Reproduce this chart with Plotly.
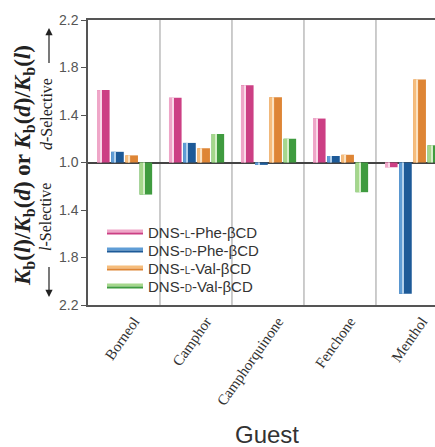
import plotly.graph_objects as go

# ---------------- data ----------------
guests = ["Borneol", "Camphor", "Camphorquinone", "Fenchone", "Menthol"]
series_names = [
    "DNS-<span style='font-size:10px'>L</span>-Phe-βCD",
    "DNS-<span style='font-size:10px'>D</span>-Phe-βCD",
    "DNS-<span style='font-size:10px'>L</span>-Val-βCD",
    "DNS-<span style='font-size:10px'>D</span>-Val-βCD",
]
# selectivity ratio (Kb(d)/Kb(l) or Kb(l)/Kb(d)) and which enantiomer is favoured
l_phe_ratio = [1.61, 1.545, 1.65, 1.37, 1.04]
l_phe_sel = ["d", "d", "d", "d", "l"]
d_phe_ratio = [1.09, 1.165, 1.02, 1.055, 2.105]
d_phe_sel = ["d", "d", "l", "d", "l"]
l_val_ratio = [1.06, 1.12, 1.55, 1.065, 1.70]
l_val_sel = ["d", "d", "d", "d", "d"]
d_val_ratio = [1.27, 1.24, 1.20, 1.25, 1.145]
d_val_sel = ["l", "d", "d", "l", "d"]

y_tickvals = [-1.2, -0.8, -0.4, 0.0, 0.4, 0.8, 1.2]
y_ticktext = ["2.2", "1.8", "1.4", "1.0", "1.4", "1.8", "2.2"]

ratios = [l_phe_ratio, d_phe_ratio, l_val_ratio, d_val_ratio]
sels = [l_phe_sel, d_phe_sel, l_val_sel, d_val_sel]

# ---------------- style ----------------
dark = ["#cc3f84", "#1d5a98", "#de8535", "#3f9b3f"]
light = ["#efa6c8", "#5f9dd6", "#f6bd7c", "#a5d78c"]
stripe = ["#f9d9e8", "#b3d1ec", "#fbe2c2", "#d6eec9"]

W, H = 435, 447
ML, MR, MT, MB = 88, 0, 20, 142
PW = W - ML - MR
PH = H - MT - MB


def px2x(px):
    return (px - ML) / PW


def px2y(py):
    return (H - MB - py) / PH


fig = go.Figure()

bar_w = 0.175
for i in range(4):
    yv = [(r - 1.0) * (1 if s == "d" else -1) for r, s in zip(ratios[i], sels[i])]
    off = -0.375 + i * 0.197
    fig.add_trace(go.Bar(x=guests, y=yv, offset=off, width=bar_w,
                         marker=dict(color=dark[i], line=dict(width=0)),
                         showlegend=False, hoverinfo="skip"))
    fig.add_trace(go.Bar(x=guests, y=yv, offset=off, width=0.05,
                         marker=dict(color=light[i], line=dict(width=0)),
                         showlegend=False, hoverinfo="skip"))
    fig.add_trace(go.Bar(x=guests, y=yv, offset=off + 0.05, width=0.016,
                         marker=dict(color=stripe[i], line=dict(width=0)),
                         showlegend=False, hoverinfo="skip"))

shapes = []
# group separators
for k in range(len(guests) - 1):
    shapes.append(dict(type="line", xref="x", yref="y", x0=k + 0.5, x1=k + 0.5,
                       y0=-1.2, y1=1.2, line=dict(color="#9a9a9a", width=1),
                       layer="below"))

annotations = []
# manual legend
rows = [232, 250, 268, 286]
for i in range(4):
    ry = rows[i]
    shapes.append(dict(type="rect", xref="paper", yref="paper",
                       x0=px2x(107), x1=px2x(143), y0=px2y(ry + 0.5), y1=px2y(ry - 2.5),
                       fillcolor=light[i], line=dict(width=0)))
    shapes.append(dict(type="rect", xref="paper", yref="paper",
                       x0=px2x(107), x1=px2x(143), y0=px2y(ry + 2.5), y1=px2y(ry + 0.5),
                       fillcolor=dark[i], line=dict(width=0)))
    annotations.append(dict(text=series_names[i], xref="paper", yref="paper",
                            x=px2x(146), y=px2y(ry), xanchor="left", yanchor="middle",
                            showarrow=False,
                            font=dict(family="Liberation Sans, Arial", size=15, color="#333")))

# y-axis titles
annotations.append(dict(
    text="<b><i>K</i><sub>b</sub>(<i>l</i>)/<i>K</i><sub>b</sub>(<i>d</i>) or "
         "<i>K</i><sub>b</sub>(<i>d</i>)/<i>K</i><sub>b</sub>(<i>l</i>)</b>",
    xref="paper", yref="paper", x=px2x(24), y=px2y(166), textangle=-90,
    showarrow=False, xanchor="center", yanchor="middle",
    font=dict(family="Liberation Serif, Times New Roman", size=23, color="#222")))
annotations.append(dict(text="<i>d</i>-Selective", xref="paper", yref="paper",
                        x=px2x(46), y=px2y(114), textangle=-90, showarrow=False,
                        xanchor="center", yanchor="middle",
                        font=dict(family="Liberation Serif, Times New Roman", size=16, color="#222")))
annotations.append(dict(text="<i>l</i>-Selective", xref="paper", yref="paper",
                        x=px2x(46), y=px2y(217), textangle=-90, showarrow=False,
                        xanchor="center", yanchor="middle",
                        font=dict(family="Liberation Serif, Times New Roman", size=16, color="#222")))
# arrows
annotations.append(dict(text=" ", xref="paper", yref="paper", x=px2x(49), y=px2y(28),
                        ax=0, ay=45, showarrow=True, arrowhead=2, arrowsize=1.2,
                        arrowwidth=1.2, arrowcolor="#222"))
annotations.append(dict(text=" ", xref="paper", yref="paper", x=px2x(49), y=px2y(297),
                        ax=0, ay=-40, showarrow=True, arrowhead=2, arrowsize=1.2,
                        arrowwidth=1.2, arrowcolor="#222"))
# x-axis title
annotations.append(dict(text="Guest", xref="paper", yref="paper", x=px2x(267), y=px2y(434),
                        showarrow=False, xanchor="center", yanchor="middle",
                        font=dict(family="Liberation Sans, Arial", size=24, color="#333")))

fig.update_layout(
    width=W, height=H,
    margin=dict(l=ML, r=MR, t=MT, b=MB, pad=0),
    paper_bgcolor="white", plot_bgcolor="white",
    barmode="overlay",
    showlegend=False,
    shapes=shapes,
    annotations=annotations,
    xaxis=dict(type="category", range=[-0.5, 4.32], showgrid=False,
               showline=True, mirror=True, linecolor="#555", linewidth=1.5,
               ticks="", tickangle=-55, ticklabelshift=10,
               tickfont=dict(family="Liberation Serif, Times New Roman", size=15, color="#333")),
    yaxis=dict(range=[-1.2, 1.2], tickvals=y_tickvals, ticktext=y_ticktext,
               showgrid=False, showline=True, linecolor="#555", linewidth=1.5,
               ticks="outside", ticklen=5, tickcolor="#555", tickwidth=1.2,
               zeroline=True, zerolinecolor="#444", zerolinewidth=1.5,
               tickfont=dict(family="Liberation Sans, Arial", size=14, color="#555")),
)

fig.write_html("out.html", config={"displayModeBar": False},
               post_script="document.body.style.margin='0';document.body.style.overflow='hidden';")
